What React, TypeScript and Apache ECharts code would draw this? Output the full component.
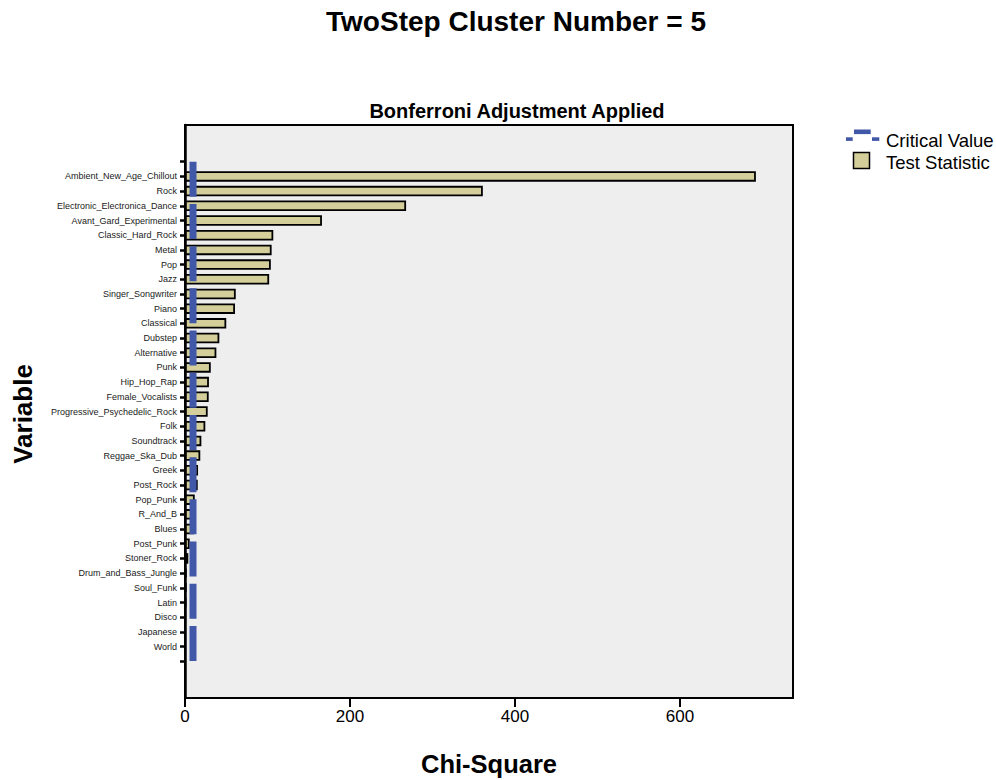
import React, { useEffect, useRef } from "react";
import * as echarts from "echarts";

const categories = [
  "Ambient_New_Age_Chillout",
  "Rock",
  "Electronic_Electronica_Dance",
  "Avant_Gard_Experimental",
  "Classic_Hard_Rock",
  "Metal",
  "Pop",
  "Jazz",
  "Singer_Songwriter",
  "Piano",
  "Classical",
  "Dubstep",
  "Alternative",
  "Punk",
  "Hip_Hop_Rap",
  "Female_Vocalists",
  "Progressive_Psychedelic_Rock",
  "Folk",
  "Soundtrack",
  "Reggae_Ska_Dub",
  "Greek",
  "Post_Rock",
  "Pop_Punk",
  "R_And_B",
  "Blues",
  "Post_Punk",
  "Stoner_Rock",
  "Drum_and_Bass_Jungle",
  "Soul_Funk",
  "Latin",
  "Disco",
  "Japanese",
  "World",
];

const testStatistic = [
  692, 361, 268, 166, 107, 105, 104, 102, 61.5, 60.6, 50, 41.6, 38, 31.2, 29,
  28.7, 27.5, 24.6, 19.8, 18.5, 15.8, 15.4, 11.8, 11.3, 11, 5.7, 4, 2, 1.7,
  1.3, 0.5, 0, 0,
];

const criticalValue = 9.7;

const xTickValues = [0, 200, 400, 600];
const xMax = 737;

const FONT = "'Liberation Sans', Arial, Helvetica, sans-serif";
const TAN = "#d4cf9a";
const BLUE = "#4157a8";

// padding categories: 3 empty slots before and after (ticks shown on the inner one)
const PAD = 3;

export default function App() {
  const ref = useRef<HTMLDivElement>(null);

  useEffect(() => {
    document.body.style.margin = "0";
    if (!ref.current) return;
    const chart = echarts.init(ref.current, undefined, { renderer: "svg" });

    const padBefore = Array.from({ length: PAD }, (_, i) => "__padA" + i);
    const padAfter = Array.from({ length: PAD }, (_, i) => "__padB" + i);
    const yData = [...padBefore, ...categories, ...padAfter];
    const n = yData.length;
    const firstTick = PAD - 1;
    const lastTick = n - PAD;

    const barData = yData.map((_, i) => {
      const k = i - PAD;
      if (k < 0 || k >= categories.length) return "-";
      const v = testStatistic[k];
      return v > 0 ? v : "-";
    });
    const lineData = yData.map((_, i) =>
      i >= firstTick && i <= lastTick ? criticalValue : "-"
    );

    chart.setOption({
      animation: false,
      textStyle: { fontFamily: FONT },
      grid: {
        left: 185,
        top: 125,
        width: 608,
        height: 573,
        show: true,
        backgroundColor: "#eeeeee",
        borderColor: "#000",
        borderWidth: 2,
        containLabel: false,
      },
      xAxis: {
        type: "value",
        min: 0,
        max: xMax,
        interval: 200,
        splitLine: { show: false },
        axisLine: { show: true, lineStyle: { color: "#000", width: 2 } },
        axisTick: {
          show: true,
          length: 9,
          customValues: xTickValues,
          lineStyle: { color: "#000", width: 2 },
        },
        axisLabel: {
          customValues: xTickValues,
          fontSize: 17,
          color: "#000",
          margin: 10,
          fontFamily: FONT,
        },
      },
      yAxis: {
        type: "category",
        inverse: true,
        data: yData,
        boundaryGap: true,
        axisLine: { show: true, onZero: false, lineStyle: { color: "#000", width: 2.5 } },
        axisTick: {
          show: true,
          alignWithLabel: true,
          length: 5,
          interval: (index: number) => index >= firstTick && index <= lastTick,
          lineStyle: { color: "#000", width: 2.5 },
        },
        axisLabel: {
          interval: 0,
          fontSize: 9,
          color: "#1a1a1a",
          margin: 8,
          fontFamily: FONT,
          formatter: (v: string) => (v.startsWith("__pad") ? "" : v),
        },
        splitLine: { show: false },
      },
      series: [
        {
          name: "Test Statistic",
          type: "bar",
          data: barData,
          barWidth: 10.5,
          itemStyle: { color: TAN, borderColor: "#000", borderWidth: 1.8 },
          z: 2,
        },
        {
          name: "Critical Value",
          type: "line",
          data: lineData,
          symbol: "none",
          connectNulls: false,
          lineStyle: {
            color: BLUE,
            width: 7,
            type: [35, 7.2],
            cap: "butt",
          },
          z: 3,
        },
      ],
      graphic: [
        {
          type: "text",
          x: 516,
          y: 21,
          style: {
            text: "TwoStep Cluster Number = 5",
            align: "center",
            verticalAlign: "middle",
            font: `bold 28px ${FONT}`,
            fill: "#000",
          },
        },
        {
          type: "text",
          x: 517,
          y: 111,
          style: {
            text: "Bonferroni Adjustment Applied",
            align: "center",
            verticalAlign: "middle",
            font: `bold 20px ${FONT}`,
            fill: "#000",
          },
        },
        {
          type: "text",
          x: 23,
          y: 414,
          rotation: Math.PI / 2,
          style: {
            text: "Variable",
            align: "center",
            verticalAlign: "middle",
            font: `bold 26px ${FONT}`,
            fill: "#000",
          },
        },
        {
          type: "text",
          x: 489,
          y: 764,
          style: {
            text: "Chi-Square",
            align: "center",
            verticalAlign: "middle",
            font: `bold 25.5px ${FONT}`,
            fill: "#000",
          },
        },
        // legend: Critical Value icon
        { type: "rect", shape: { x: 846, y: 137.3, width: 6.7, height: 3.6 }, style: { fill: BLUE } },
        { type: "rect", shape: { x: 854, y: 129.5, width: 16.7, height: 4.6 }, style: { fill: BLUE } },
        { type: "rect", shape: { x: 872, y: 137.3, width: 7.3, height: 3.6 }, style: { fill: BLUE } },
        {
          type: "text",
          x: 886,
          y: 140,
          style: {
            text: "Critical Value",
            align: "left",
            verticalAlign: "middle",
            font: `18.5px ${FONT}`,
            fill: "#000",
          },
        },
        {
          type: "rect",
          shape: { x: 853.5, y: 152.5, width: 16, height: 16 },
          style: { fill: TAN, stroke: "#000", lineWidth: 1.5 },
        },
        {
          type: "text",
          x: 886,
          y: 162,
          style: {
            text: "Test Statistic",
            align: "left",
            verticalAlign: "middle",
            font: `18.5px ${FONT}`,
            fill: "#000",
          },
        },
      ],
    });

    return () => chart.dispose();
  }, []);

  return <div ref={ref} style={{ width: 996, height: 780 }} />;
}
